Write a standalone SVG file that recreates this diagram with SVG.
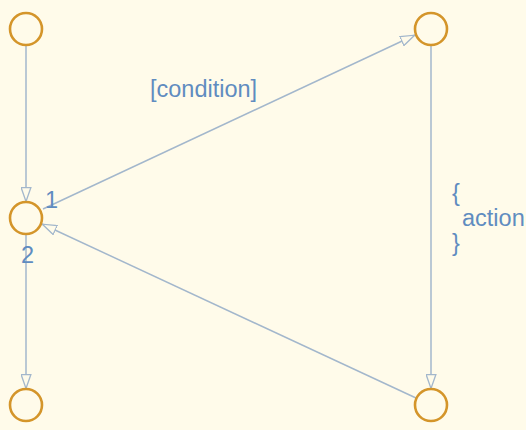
<svg xmlns="http://www.w3.org/2000/svg" width="526" height="430" viewBox="0 0 526 430">
<style>
.node{fill:none;stroke:#d4952a;stroke-width:2.6}
.edge{fill:none;stroke:#a3b7cc;stroke-width:1.5}
.lbl{font-family:"Liberation Sans",Arial,sans-serif;font-size:23.5px;fill:#5f8cc0}
</style>
<defs>
<marker id="arr" viewBox="0 0 15 11" refX="15" refY="5.5" markerWidth="15" markerHeight="11" markerUnits="userSpaceOnUse" orient="auto">
<path d="M0.5,0.6 L14.5,5.5 L0.5,10.4 Z" fill="#fffbea" stroke="#a3b7cc" stroke-width="1.3"/>
</marker>
</defs>
<rect width="526" height="430" fill="#fffbea"/>
<g id="connectors">
<line class="edge" x1="26" y1="45" x2="26" y2="202" marker-end="url(#arr)"/>
<line class="edge" x1="43" y1="209" x2="415" y2="35" marker-end="url(#arr)"/>
<line class="edge" x1="431" y1="45" x2="431" y2="389" marker-end="url(#arr)"/>
<line class="edge" x1="416" y1="398" x2="42" y2="224" marker-end="url(#arr)"/>
<line class="edge" x1="26" y1="234" x2="26" y2="389" marker-end="url(#arr)"/>
</g>
<g id="n1"><circle class="node" cx="26" cy="29" r="16"/></g>
<g id="n2"><circle class="node" cx="431" cy="29" r="16"/></g>
<g id="n3"><circle class="node" cx="26" cy="218" r="16"/></g>
<g id="n4"><circle class="node" cx="26" cy="405" r="16"/></g>
<g id="n5"><circle class="node" cx="431" cy="405" r="16"/></g>
<g id="labels">
<text class="lbl" x="150" y="97">[condition]</text>
<text class="lbl" x="452" y="201">{</text>
<text class="lbl" x="462" y="226">action</text>
<text class="lbl" x="452" y="251">}</text>
<text class="lbl" x="45" y="208">1</text>
<text class="lbl" x="21" y="263">2</text>
</g>
</svg>
